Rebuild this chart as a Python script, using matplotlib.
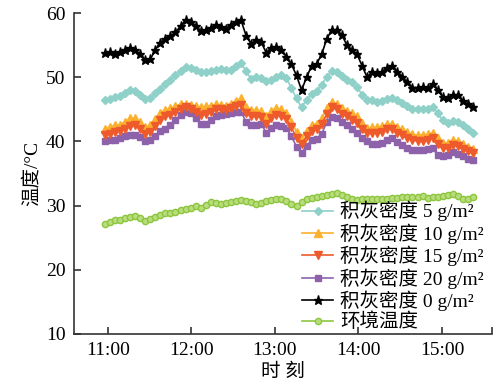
import matplotlib.pyplot as plt
import numpy as np

plt.rcParams['font.family'] = ['Liberation Serif', 'Noto Sans CJK SC']
plt.rcParams['font.size'] = 14

# sampling window (hours of day)
t_start = 10.964
t_end = 15.371

# temperature readings, deg C
dust_5 = [46.4, 46.6, 46.9, 47.1, 47.6, 48.1, 47.9, 47.3, 46.6, 46.7,
          47.5, 48.2, 48.9, 49.6, 50.3, 51.0, 51.6, 51.5, 51.1, 50.8,
          50.8, 51.0, 51.1, 51.3, 51.1, 51.1, 51.7, 52.2, 51.0, 49.7,
          50.1, 49.9, 49.4, 49.6, 50.1, 50.3, 49.9, 48.3, 46.7, 45.3,
          46.5, 47.4, 47.9, 48.8, 50.1, 51.0, 50.9, 50.2, 49.6, 49.2,
          48.5, 47.3, 46.5, 46.4, 46.2, 46.3, 46.6, 46.8, 46.4, 46.0,
          45.6, 45.1, 45.0, 45.0, 45.1, 45.4, 44.4, 43.3, 42.9, 43.2,
          43.0, 42.5, 41.9, 41.3]
dust_10 = [41.9, 42.2, 42.5, 42.6, 43.1, 43.6, 43.6, 43.0, 42.3, 42.5,
           43.5, 44.5, 44.9, 45.2, 45.5, 45.8, 45.9, 45.7, 45.5, 45.3,
           45.5, 45.6, 45.8, 45.7, 45.6, 45.9, 46.3, 46.7, 45.4, 44.9,
           44.9, 44.7, 43.9, 44.8, 45.2, 45.0, 44.5, 43.1, 41.5, 40.5,
           41.7, 42.5, 42.8, 43.6, 45.2, 46.2, 45.8, 45.2, 44.8, 44.4,
           43.9, 42.9, 42.1, 42.2, 42.2, 42.4, 42.7, 42.7, 42.2, 41.9,
           41.5, 41.1, 41.0, 41.0, 41.1, 41.4, 40.6, 39.8, 39.8, 40.3,
           40.1, 39.6, 39.2, 38.8]
dust_15 = [41.0, 41.2, 41.5, 41.6, 42.0, 42.4, 42.5, 42.0, 41.2, 41.5,
           42.4, 43.3, 43.9, 44.2, 44.6, 45.1, 45.3, 45.1, 44.6, 44.1,
           44.3, 44.6, 45.0, 45.0, 44.9, 45.2, 45.5, 45.7, 44.5, 43.9,
           43.9, 43.8, 42.8, 43.6, 44.1, 44.0, 43.5, 42.2, 40.6, 39.6,
           40.8, 41.6, 41.9, 42.7, 44.3, 45.3, 45.0, 44.3, 43.9, 43.4,
           42.9, 42.0, 41.3, 41.3, 41.3, 41.5, 41.9, 42.0, 41.4, 41.0,
           40.6, 40.2, 40.1, 40.1, 40.2, 40.5, 39.6, 39.0, 39.0, 39.5,
           39.3, 38.9, 38.5, 38.2]
dust_20 = [40.0, 40.2, 40.3, 40.5, 40.8, 41.0, 41.0, 40.7, 40.0, 40.3,
           40.9, 41.6, 42.0, 42.6, 43.3, 44.2, 44.6, 44.4, 43.7, 42.8,
           42.8, 43.4, 44.0, 44.2, 44.3, 44.5, 44.6, 44.6, 43.1, 42.6,
           42.6, 42.7, 41.4, 42.1, 42.5, 42.4, 42.1, 40.8, 39.2, 38.2,
           39.3, 40.2, 40.4, 41.2, 43.0, 43.8, 43.6, 43.0, 42.5, 41.9,
           41.3, 40.6, 40.0, 39.6, 39.6, 39.7, 40.2, 40.6, 39.9, 39.4,
           39.0, 38.7, 38.7, 38.7, 38.8, 39.0, 37.9, 37.8, 37.9, 38.4,
           38.1, 37.7, 37.2, 37.1]
dust_0 = [53.8, 53.9, 53.7, 53.9, 54.3, 54.6, 54.2, 53.6, 52.7, 52.8,
          54.3, 55.4, 56.0, 56.4, 57.0, 58.0, 58.9, 58.6, 58.0, 57.2,
          57.3, 57.7, 58.1, 57.9, 57.5, 58.2, 58.6, 58.9, 56.5, 55.2,
          55.8, 55.5, 53.8, 54.6, 54.7, 54.2, 53.2, 52.0, 50.3, 48.0,
          50.0, 51.8, 52.1, 53.6, 56.0, 57.4, 57.3, 56.6, 55.0, 54.2,
          53.6, 51.8, 50.0, 50.8, 50.6, 50.8, 51.5, 51.8, 50.9, 50.0,
          49.2, 48.4, 48.4, 48.5, 48.3, 48.9, 48.1, 46.9, 46.7, 47.2,
          47.3, 46.3, 45.8, 45.4]
ambient = [27.2, 27.5, 27.7, 27.8, 28.0, 28.3, 28.4, 28.0, 27.6, 27.9,
           28.3, 28.6, 28.8, 28.9, 29.0, 29.3, 29.5, 29.7, 29.9, 29.7,
           30.1, 30.5, 30.4, 30.3, 30.4, 30.5, 30.8, 30.9, 30.8, 30.6,
           30.2, 30.4, 30.8, 30.9, 31.1, 31.0, 30.8, 30.3, 29.9, 30.5,
           31.0, 31.2, 31.4, 31.5, 31.7, 31.8, 31.9, 31.6, 31.3, 31.0,
           30.9, 31.0, 31.0, 31.0, 31.0, 31.0, 31.1, 31.2, 31.2, 31.3,
           31.4, 31.3, 31.4, 31.5, 31.2, 31.3, 31.4, 31.5, 31.6, 31.8,
           31.5, 31.1, 31.0, 31.4]

hour_ticks = [11, 12, 13, 14, 15]
hour_labels = ['11:00', '12:00', '13:00', '14:00', '15:00']

t = np.linspace(t_start, t_end, len(dust_0))

fig = plt.figure(figsize=(4.96, 3.87), dpi=100)
ax = fig.add_axes([0.149, 0.137, 0.843, 0.829])

l_amb, = ax.plot(t, ambient, color='#8cc63e', marker='o', ms=4.5, mfc='#b9dc7c',
                 mec='#8cc63e', mew=1.0, lw=1.2, label='环境温度')
l20, = ax.plot(t, dust_20, color='#8e62ab', marker='s', ms=4, lw=1.2,
               label='积灰密度 20 g/m²')
l10, = ax.plot(t, dust_10, color='#fbb02e', marker='^', ms=5.5, lw=1.2,
               label='积灰密度 10 g/m²')
l15, = ax.plot(t, dust_15, color='#ee5a2b', marker='v', ms=5.5, lw=1.2,
               label='积灰密度 15 g/m²')
l5, = ax.plot(t, dust_5, color='#8fd0c9', marker='D', ms=4.5, lw=1.2,
              label='积灰密度 5 g/m²')
l0, = ax.plot(t, dust_0, color='black', marker='*', ms=6.5, lw=1.2,
              label='积灰密度 0 g/m²')

ax.set_xlim(10.593, 15.599)
ax.set_ylim(10, 60)
ax.set_xticks(hour_ticks + [15.599])
ax.set_xticklabels(hour_labels + [''])
ax.set_yticks([10, 20, 30, 40, 50, 60])

for s in ['top', 'right']:
    ax.spines[s].set_visible(False)
for s in ['left', 'bottom']:
    ax.spines[s].set_linewidth(1.2)
    ax.spines[s].set_color('#333333')
ax.tick_params(direction='in', length=5, width=1.2, color='#333333', labelsize=14, pad=6)

ax.set_xlabel('时 刻', fontsize=14, labelpad=3)
ax.set_ylabel('温度/°C', fontsize=14, labelpad=4)

ax.legend(handles=[l5, l10, l15, l20, l0, l_amb], loc='upper left',
          bbox_to_anchor=(302 / 496, 1 - 201 / 387), bbox_transform=fig.transFigure,
          frameon=False, fontsize=14, handlelength=1.6, handletextpad=0.35,
          labelspacing=0.1, borderpad=0, borderaxespad=0)

fig.savefig('out.png', dpi=100)
